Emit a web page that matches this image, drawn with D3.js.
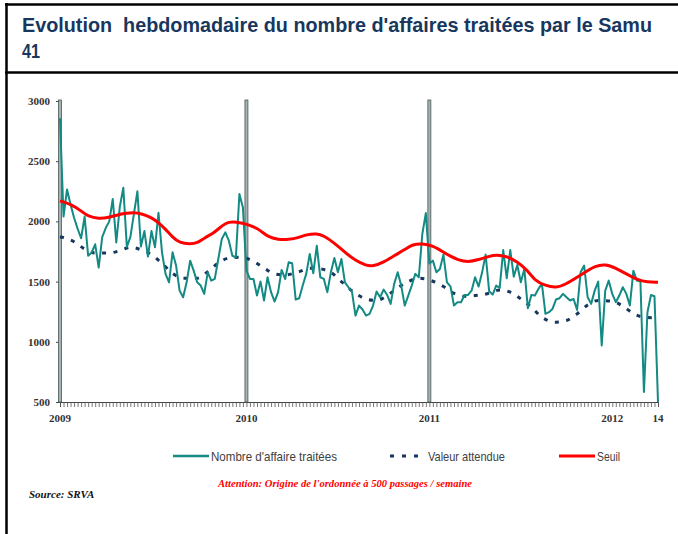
<!DOCTYPE html>
<html>
<head>
<meta charset="utf-8">
<script src="https://cdn.jsdelivr.net/npm/d3@7"></script>
<style>
  body { margin: 0; background: #fff; }
  svg { display: block; }
</style>
</head>
<body>
<svg id="chart" width="678" height="534"></svg>
<script>
// weekly counts, week 1 2009 -> week 14 2012
const affaires = [
  2856, 2040, 2265, 2140, 2030, 1940, 1860, 2040, 1715, 1740,
  1810, 1617, 1870, 1945, 2000, 2186, 1825, 2120, 2280, 1788,
  1870, 2060, 2250, 1792, 1920, 1708, 1920, 1785, 2072,
  1743, 1564, 1494, 1743, 1633, 1425, 1370, 1494, 1674, 1591,
  1494, 1467, 1398, 1577, 1508, 1522, 1688, 1854, 1909, 1840,
  1715, 1702, 2227, 2116,
  1591, 1522, 1522, 1384, 1500, 1343, 1536, 1412, 1334, 1412,
  1597, 1522, 1660, 1652, 1351, 1362, 1467, 1564, 1729, 1569,
  1798, 1536, 1522, 1412, 1577, 1696, 1577, 1688, 1494, 1453,
  1417, 1218, 1301, 1268, 1218, 1232, 1301, 1417, 1370, 1434,
  1389, 1315, 1481, 1577, 1467, 1301, 1384, 1467, 1564, 1536,
  1895, 2069, 1650,
  1674, 1577, 1605, 1724, 1494, 1461, 1301, 1329, 1329, 1389,
  1389, 1425, 1536, 1459, 1577, 1724, 1420, 1392, 1467, 1448,
  1762, 1528, 1762, 1541, 1638, 1494, 1605, 1279, 1389, 1384,
  1439, 1481, 1232, 1246, 1273, 1351, 1362, 1398, 1370, 1343,
  1356, 1265, 1577, 1633, 1370, 1315, 1425, 1500, 970, 1425,
  1508, 1398, 1329, 1384, 1453, 1398, 1301, 1591, 1508, 1500,
  583, 1246, 1389, 1378, 500
];

// expected value, read about every 3 weeks
const attendueWeek = [0, 4, 7, 10, 14, 17, 20, 23, 26, 29, 32, 35, 39, 42, 45, 48, 51, 55, 58, 61,
  64, 68, 71, 74, 77, 80, 83, 87, 90, 93, 96, 99, 102, 106, 109, 112, 115, 118, 122, 125,
  128, 131, 134, 137, 141, 144, 147, 150, 153, 157, 160, 163, 166, 170];
const attendueValue = [1873, 1831, 1771, 1738, 1738, 1757, 1785, 1765, 1724, 1652, 1569, 1528, 1528, 1583, 1655, 1696, 1702, 1669, 1613, 1564,
  1555, 1583, 1611, 1605, 1577, 1500, 1423, 1356, 1343, 1384, 1448, 1500, 1528, 1503, 1459, 1403, 1378, 1384, 1403, 1431,
  1412, 1356, 1287, 1204, 1163, 1177, 1232, 1306, 1343, 1337, 1296, 1235, 1204, 1199];

// threshold
const seuilWeek = [0, 3, 6, 8, 11, 14, 16, 19, 21, 23, 26, 28, 30, 32, 34, 37, 39, 41, 44, 46,
  48, 50, 53, 55, 57, 59, 62, 65, 68, 70, 73, 75, 78, 81, 84, 87, 89, 92, 95, 98,
  100, 103, 106, 109, 111, 113, 116, 119, 122, 124, 127, 130, 133, 135, 138, 141, 144, 147, 150, 152,
  155, 158, 161, 164, 167, 170];
const seuilValue = [2171, 2144, 2088, 2040, 2022, 2033, 2052, 2069, 2075, 2066, 2033, 1990, 1936, 1867, 1822, 1812, 1820, 1862, 1909, 1964,
  1997, 1997, 1978, 1955, 1925, 1873, 1848, 1848, 1867, 1890, 1901, 1881, 1820, 1743, 1674, 1633, 1627, 1660, 1715, 1765,
  1807, 1818, 1798, 1745, 1710, 1682, 1660, 1682, 1710, 1724, 1710, 1666, 1591, 1508, 1467, 1445, 1481, 1536, 1591, 1627,
  1646, 1611, 1564, 1517, 1494, 1494];

const yTicks = [500, 1000, 1500, 2000, 2500, 3000];
const yearLabels = ["2009", "2010", "2011", "2012", "14"];
const yearWeeks = [0, 53, 105, 157, 170];
const yearLineWeeks = [0, 53, 105];

const svg = d3.select("#chart");

// frame around the slide
svg.append("line").attr("x1", 6.5).attr("x2", 6.5).attr("y1", 3).attr("y2", 534)
  .attr("stroke", "#000").attr("stroke-width", 2.5);
svg.append("line").attr("x1", 5).attr("x2", 678).attr("y1", 4.5).attr("y2", 4.5)
  .attr("stroke", "#000").attr("stroke-width", 2.5);
svg.append("line").attr("x1", 5).attr("x2", 678).attr("y1", 72.5).attr("y2", 72.5)
  .attr("stroke", "#000").attr("stroke-width", 2.5);

// title
svg.append("text").attr("x", 22).attr("y", 32)
  .attr("font-family", "Liberation Sans, Arial, sans-serif").attr("font-weight", "bold")
  .attr("font-size", 20.5).attr("fill", "#17375E")
  .attr("textLength", 630).attr("lengthAdjust", "spacingAndGlyphs")
  .style("white-space", "pre")
  .text("Evolution  hebdomadaire du nombre d'affaires traitées par le Samu");
svg.append("text").attr("x", 22).attr("y", 58)
  .attr("font-family", "Liberation Sans, Arial, sans-serif").attr("font-weight", "bold")
  .attr("font-size", 20.5).attr("fill", "#17375E")
  .attr("textLength", 18).attr("lengthAdjust", "spacingAndGlyphs")
  .text("41");

//Scales
let x = d3.scaleLinear().domain([0, 170]).range([60, 658]);
let y = d3.scaleLinear().domain([500, 3000]).range([402, 101]);

//Y axis
let yAxis = svg.append("g")
  .attr("transform", "translate(60,0)")
  .call(d3.axisLeft(y).tickValues(yTicks).tickSize(4).tickPadding(6).tickFormat(d3.format("d")));
yAxis.select(".domain").attr("stroke", "#444");
yAxis.selectAll(".tick line").attr("stroke", "#444");
yAxis.selectAll("text")
  .attr("font-family", "Liberation Serif, Times New Roman, serif")
  .attr("font-weight", "bold").attr("font-size", 11).attr("fill", "#333");

//X axis with one tick per week
let xAxis = svg.append("g")
  .attr("transform", "translate(0,402)")
  .call(d3.axisBottom(x).tickValues(d3.range(0, 171)).tickSize(5).tickFormat(""));
xAxis.select(".domain").attr("stroke", "#444");
xAxis.selectAll(".tick line").attr("stroke", "#555").attr("stroke-width", 0.8);

svg.append("g").selectAll("text")
  .data(yearLabels)
  .enter().append("text")
  .attr("x", (d, i) => x(yearWeeks[i]))
  .attr("y", 422)
  .attr("text-anchor", "middle")
  .attr("font-family", "Liberation Serif, Times New Roman, serif")
  .attr("font-weight", "bold").attr("font-size", 11).attr("fill", "#333")
  .text(d => d);

// year separators
svg.append("g").selectAll("rect")
  .data(yearLineWeeks)
  .enter().append("rect")
  .attr("x", d => x(d) - 1.5)
  .attr("y", y(3000) - 1)
  .attr("width", 3)
  .attr("height", y(500) - y(3000) + 1)
  .attr("fill", "#a3b3b1")
  .attr("stroke", "#4d5757")
  .attr("stroke-width", 0.8);

//Lines
let smooth = d3.line().curve(d3.curveMonotoneX);

svg.append("path")
  .datum(attendueWeek.map((w, i) => [x(w), y(attendueValue[i])]))
  .attr("fill", "none")
  .attr("stroke", "#17375E")
  .attr("stroke-width", 3)
  .attr("stroke-dasharray", "4,7.5")
  .attr("d", smooth);

svg.append("path")
  .datum(affaires)
  .attr("fill", "none")
  .attr("stroke", "#138a83")
  .attr("stroke-width", 2)
  .attr("stroke-linejoin", "round")
  .attr("d", d3.line().x((d, i) => x(i)).y(d => y(d)));

svg.append("path")
  .datum(seuilWeek.map((w, i) => [x(w), y(seuilValue[i])]))
  .attr("fill", "none")
  .attr("stroke", "#ff0000")
  .attr("stroke-width", 3)
  .attr("d", d3.line().curve(d3.curveBasis));

//Legend
let legend = svg.append("g");
let legendItems = [
  { label: "Nombre d'affaire traitées", x: 173, w: 126, color: "#138a83", dash: null, width: 2.5 },
  { label: "Valeur attendue", x: 390, w: 77, color: "#17375E", dash: "4,8", width: 3 },
  { label: "Seuil", x: 559, w: 23, color: "#ff0000", dash: null, width: 3 }
];
legendItems.forEach(function (d) {
  legend.append("line")
    .attr("x1", d.x).attr("x2", d.x + 36)
    .attr("y1", 456).attr("y2", 456)
    .attr("stroke", d.color).attr("stroke-width", d.width)
    .attr("stroke-dasharray", d.dash);
  legend.append("text")
    .attr("x", d.x + 38).attr("y", 460.5)
    .attr("font-family", "Liberation Sans, Arial, sans-serif")
    .attr("font-size", 13).attr("fill", "#404040")
    .attr("textLength", d.w).attr("lengthAdjust", "spacingAndGlyphs")
    .text(d.label);
});

// notes
svg.append("text").attr("x", 345).attr("y", 487)
  .attr("text-anchor", "middle")
  .attr("font-family", "Liberation Serif, Times New Roman, serif")
  .attr("font-weight", "bold").attr("font-style", "italic")
  .attr("font-size", 10.5).attr("fill", "#ff0000")
  .attr("textLength", 254).attr("lengthAdjust", "spacingAndGlyphs")
  .text("Attention: Origine de l'ordonnée à 500 passages / semaine");

svg.append("text").attr("x", 29).attr("y", 498)
  .attr("font-family", "Liberation Serif, Times New Roman, serif")
  .attr("font-weight", "bold").attr("font-style", "italic")
  .attr("font-size", 11).attr("fill", "#111")
  .text("Source: SRVA");
</script>
</body>
</html>
